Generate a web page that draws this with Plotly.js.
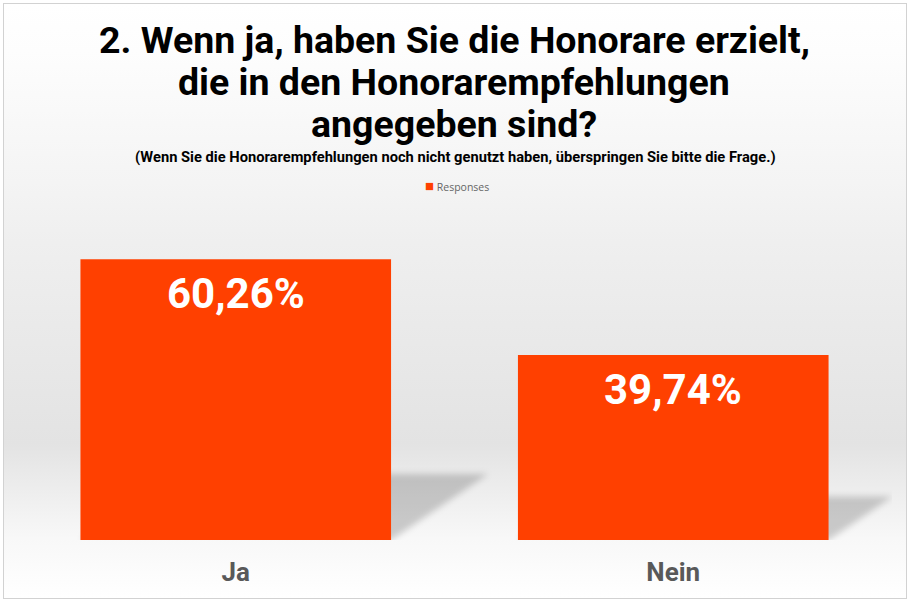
<!DOCTYPE html>
<html>
<head>
<meta charset="utf-8">
<script src="https://cdn.plot.ly/plotly-3.0.1.min.js"></script>
<style>
  html, body { margin: 0; padding: 0; background: #ffffff; }
  #frame {
    position: absolute; left: 3px; top: 3px; width: 902px; height: 594px;
    border: 1px solid #d2d2d2;
    background: linear-gradient(to bottom, #ffffff 0%, #fdfdfd 8%, #f4f4f4 30%, #efefef 40%, #e3e3e3 74%, #f8f8f8 90%, #ffffff 100%);
  }
  #chart { position: absolute; left: 0; top: 0; width: 916px; height: 603px; }
</style>
</head>
<body>
<div id="frame"></div>
<div id="chart"></div>
<script>
const categories = ["Ja", "Nein"];
const values = [60.26, 39.74];
const seriesName = "Responses";
const titleLines = ["2. Wenn ja, haben Sie die Honorare erzielt,", "die in den Honorarempfehlungen", "angegeben sind?"];
const subtitleText = "(Wenn Sie die Honorarempfehlungen noch nicht genutzt haben, überspringen Sie bitte die Frage.)";

const barColor = "#ff4000";
const bargap = 0.29;
const halfW = (1 - bargap) / 2;
const plotTop = 214, plotBottom = 540;
const py = Y => (plotBottom - Y) / (plotBottom - plotTop); // pixel row -> paper y
const px = X => 0.5 + (X - (17 + 875 / 2)) / 875;          // pixel column -> paper x

const labels = values.map(v => v.toFixed(2).replace('.', ',') + '%');

const trace = {
  type: 'bar',
  name: seriesName,
  x: [0, 1],
  y: values,
  marker: { color: barColor },
  showlegend: false,
  hoverinfo: 'none'
};

// shadow shapes derived from bar values (skewed projection of each bar)
const shapes = values.map((v, i) => {
  const left = i - halfW, right = i + halfW;
  const dx = v * 0.00368, dy = v * 0.235;
  return {
    type: 'path', xref: 'x', yref: 'y', layer: 'below',
    path: `M ${left} 0 L ${right} 0 L ${right + dx} ${dy} L ${left + dx} ${dy} Z`,
    fillcolor: 'rgba(0,0,0,0.18)', line: { width: 0 }
  };
});

const annotations = values.map((v, i) => ({
  x: i, y: v, xref: 'x', yref: 'y',
  text: labels[i], showarrow: false,
  yanchor: 'top', yshift: -8,
  font: { family: 'Roboto', size: 42, color: '#ffffff', weight: 700 }
}));
const titleCenters = [40, 82, 124];
titleLines.forEach((t, k) => annotations.push({
  xref: 'paper', yref: 'paper', x: px(454), y: py(titleCenters[k]),
  xanchor: 'center', yanchor: 'middle', showarrow: false, text: t,
  font: { family: 'Roboto', size: 37.5, color: '#000000', weight: 700 }
}));
annotations.push({
  xref: 'paper', yref: 'paper', x: px(455), y: py(157),
  xanchor: 'center', yanchor: 'middle', showarrow: false,
  text: subtitleText,
  font: { family: 'Roboto', size: 14.7, color: '#000000', weight: 700 }
});
annotations.push({
  xref: 'paper', yref: 'paper', x: px(457), y: py(185),
  xanchor: 'center', yanchor: 'middle', showarrow: false,
  text: `<span style="color:${barColor};font-size:15px">■</span> ${seriesName}`,
  font: { family: 'Open Sans', size: 10.5, color: '#666666' }
});

const layout = {
  width: 916, height: 603,
  margin: { l: 17, r: 24, t: plotTop, b: 603 - plotBottom },
  paper_bgcolor: 'rgba(0,0,0,0)',
  plot_bgcolor: 'rgba(0,0,0,0)',
  xaxis: {
    range: [-0.5, 1.5],
    tickmode: 'array', tickvals: [0, 1], ticktext: categories,
    showgrid: false, zeroline: false, showline: false, ticks: '',
    ticklabelstandoff: 14,
    tickfont: { family: 'Roboto', size: 26, color: '#595959', weight: 700 },
    fixedrange: true
  },
  yaxis: {
    range: [0, 70], visible: false, showgrid: false, zeroline: false, fixedrange: true
  },
  bargap: bargap,
  showlegend: false,
  shapes: shapes,
  annotations: annotations
};

Plotly.newPlot('chart', [trace], layout, { displayModeBar: false, staticPlot: true }).then(gd => {
  gd.querySelectorAll('.shapelayer path').forEach(p => { p.style.filter = 'blur(3px)'; });
});
</script>
</body>
</html>
